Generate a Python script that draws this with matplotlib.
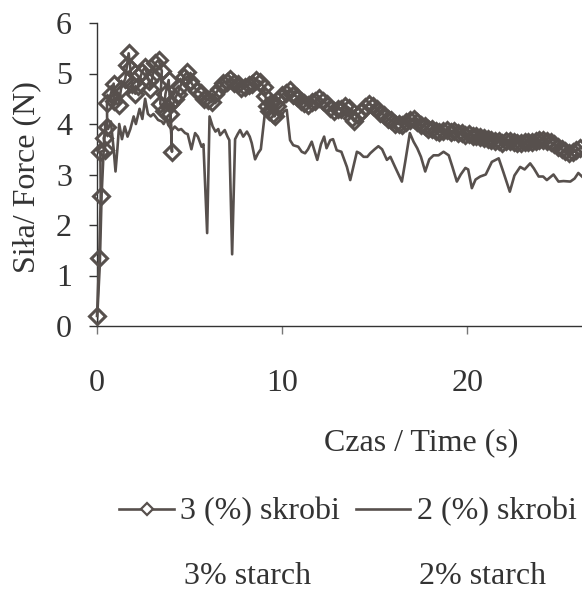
import matplotlib
matplotlib.use("Agg")
import matplotlib.pyplot as plt
from matplotlib.lines import Line2D

# 3 % starch (diamond markers)
t3 = [0.0, 0.12, 0.2, 0.18, 0.45, 0.36, 0.55, 0.54, 0.75, 0.9, 0.9, 1.17, 1.3, 1.53,
      1.62, 1.71, 1.8, 1.9, 2.07, 2.2, 2.43, 2.6, 2.8, 2.88, 3.0, 3.15, 3.33, 3.5,
      3.42, 3.6, 3.7, 3.87, 3.95, 4.05, 3.97, 4.2, 4.35, 4.5, 4.68, 4.86, 5.05, 5.2,
      5.4, 5.6, 5.8, 6.0, 6.2, 6.4, 6.6, 6.8, 7.0, 7.2, 7.4, 7.6, 7.8, 8.0, 8.2, 8.4,
      8.6, 8.8, 9.0, 9.1, 9.2, 9.3, 9.4, 9.5, 9.6, 9.7, 9.8, 10.0, 10.2, 10.4, 10.6,
      10.8, 11.0, 11.2, 11.4, 11.6, 11.8, 12.0, 12.2, 12.4, 12.6, 12.8, 13.0, 13.2,
      13.4, 13.6, 13.75, 13.9, 14.1, 14.3, 14.5, 14.7, 14.9, 15.1, 15.3, 15.5, 15.7,
      15.9, 16.1, 16.3, 16.5, 16.7, 16.9, 17.1, 17.3, 17.5, 17.7, 17.9, 18.1, 18.3,
      18.5, 18.7, 18.9, 19.1, 19.3, 19.5, 19.7, 19.9, 20.1, 20.3, 20.5, 20.7, 20.9,
      21.1, 21.3, 21.5, 21.7, 21.9, 22.1, 22.3, 22.5, 22.7, 22.9, 23.1, 23.3, 23.5,
      23.7, 23.9, 24.1, 24.3, 24.5, 24.7, 24.9, 25.1, 25.3, 25.5, 25.7, 25.9, 26.1]
f3 = [0.2, 1.34, 2.57, 3.45, 3.48, 3.72, 3.95, 4.41, 4.6, 4.8, 4.45, 4.38, 4.7, 4.9,
      5.17, 5.4, 5.1, 4.8, 4.6, 4.75, 5.03, 5.13, 4.85, 4.7, 4.95, 5.2, 5.27, 5.05,
      4.4, 4.25, 4.6, 4.87, 4.4, 3.45, 4.2, 4.5, 4.6, 4.74, 4.94, 5.03, 4.85, 4.75,
      4.66, 4.62, 4.5, 4.48, 4.44, 4.6, 4.7, 4.82, 4.84, 4.9, 4.82, 4.8, 4.72, 4.74,
      4.78, 4.8, 4.88, 4.84, 4.74, 4.55, 4.35, 4.25, 4.42, 4.2, 4.15, 4.35, 4.48, 4.58,
      4.62, 4.68, 4.58, 4.54, 4.46, 4.42, 4.38, 4.44, 4.46, 4.52, 4.46, 4.4, 4.32,
      4.26, 4.3, 4.3, 4.36, 4.32, 4.12, 4.05, 4.18, 4.26, 4.34, 4.4, 4.36, 4.3, 4.22,
      4.18, 4.1, 4.08, 4.0, 4.0, 3.98, 4.04, 4.08, 4.1, 4.04, 3.98, 3.96, 3.9, 3.9,
      3.86, 3.84, 3.86, 3.88, 3.84, 3.86, 3.82, 3.82, 3.78, 3.8, 3.76, 3.77, 3.74,
      3.73, 3.7, 3.68, 3.66, 3.66, 3.63, 3.67, 3.66, 3.64, 3.62, 3.63, 3.64, 3.65,
      3.65, 3.67, 3.68, 3.68, 3.67, 3.64, 3.6, 3.55, 3.5, 3.46, 3.43, 3.44, 3.48, 3.52]

# 2 % starch (plain line)
t2 = [0.0, 0.15, 0.25, 0.35, 0.45, 0.6, 0.75, 0.9, 1.0, 1.1, 1.2, 1.35, 1.5, 1.65,
      1.8, 1.98, 2.1, 2.3, 2.45, 2.6, 2.75, 2.9, 3.05, 3.3, 3.5, 3.6, 3.75, 3.85,
      4.05, 4.2, 4.4, 4.55, 4.76, 4.9, 5.1, 5.3, 5.45, 5.65, 5.75, 5.95, 6.08, 6.25,
      6.4, 6.55, 6.65, 6.9, 7.05, 7.15, 7.3, 7.46, 7.6, 7.73, 7.9, 8.1, 8.25, 8.36,
      8.54, 8.7, 8.85, 9.08, 9.3, 9.5, 9.7, 9.9, 10.1, 10.25, 10.43, 10.6, 10.87,
      11.06, 11.24, 11.4, 11.6, 11.9, 12.1, 12.27, 12.4, 12.6, 12.75, 12.95, 13.2,
      13.5, 13.68, 13.85, 14.04, 14.2, 14.4, 14.6, 14.76, 15.0, 15.2, 15.4, 15.66,
      15.85, 16.1, 16.47, 16.65, 16.9, 17.1, 17.3, 17.5, 17.73, 17.95, 18.18, 18.45,
      18.72, 19.0, 19.2, 19.44, 19.65, 19.9, 20.05, 20.25, 20.45, 20.7, 21.0, 21.33,
      21.7, 21.95, 22.3, 22.55, 22.86, 23.1, 23.4, 23.6, 23.86, 24.1, 24.3, 24.66,
      24.93, 25.2, 25.57, 25.8, 26.0, 26.2]
f2 = [0.1, 1.2, 2.6, 3.4, 4.0, 3.9, 4.05, 3.5, 3.06, 3.5, 4.0, 3.7, 3.95, 3.75,
      3.9, 4.15, 4.0, 4.3, 4.1, 4.5, 4.2, 4.15, 4.2, 4.08, 4.05, 4.0, 4.1, 3.98,
      3.88, 3.95, 3.88, 3.9, 3.82, 3.8, 3.5, 3.82, 3.75, 3.55, 3.6, 1.84, 4.15, 3.95,
      3.85, 3.9, 3.78, 3.88, 3.75, 3.68, 1.42, 3.7, 3.8, 3.88, 3.75, 3.85, 3.75, 3.62,
      3.3, 3.42, 3.5, 4.25, 4.4, 4.48, 4.3, 4.12, 4.25, 4.28, 3.68, 3.58, 3.55,
      3.45, 3.42, 3.5, 3.65, 3.29, 3.6, 3.75, 3.52, 3.68, 3.7, 3.48, 3.45,
      3.15, 2.89, 3.15, 3.45, 3.42, 3.35, 3.35, 3.42, 3.5, 3.56, 3.5, 3.29,
      3.35, 3.15, 2.86, 3.25, 3.82, 3.65, 3.52, 3.35, 3.06, 3.3, 3.38, 3.38,
      3.45, 3.38, 3.15, 2.86, 3.0, 3.13, 3.1, 2.73, 2.9, 2.96, 3.0, 3.25,
      3.32, 3.05, 2.66, 2.98, 3.15, 3.1, 3.22, 3.12, 2.96, 2.96, 2.89, 3.0,
      2.86, 2.87, 2.86, 2.92, 3.03, 2.96]

legend_labels = ["3 (%) skrobi", "2 (%) skrobi"]
english_labels = ["3% starch", "2% starch"]
x_ticks = [0, 10, 20]
y_ticks = [0, 1, 2, 3, 4, 5, 6]

LINE = "#57504d"
TEXT = "#333333"
FS = 23

plt.rcParams["font.family"] = ["Liberation Serif", "DejaVu Serif"]

fig = plt.figure(figsize=(5.82, 5.91), dpi=100)
ax = fig.add_axes([97 / 582, 1 - 326 / 591, 1 - 97 / 582, (326 - 23) / 591])

ax.plot(t2, f2, color=LINE, lw=1.9, zorder=2)
ax.plot(t3, f3, color=LINE, lw=1.9, marker="D", ms=8, mew=2.2,
        mfc="none", mec=LINE, clip_on=False, zorder=3)

ax.set_xlim(0, 26.2)
ax.set_ylim(0, 6)
ax.set_xticks(x_ticks)
ax.set_yticks(y_ticks)
for sp in ("top", "right"):
    ax.spines[sp].set_visible(False)
for sp in ("left", "bottom"):
    ax.spines[sp].set_color(TEXT)
    ax.spines[sp].set_linewidth(1.0)
ax.tick_params(axis="x", direction="out", length=6, width=1, color="#777777",
               pad=25, labelsize=FS, labelcolor=TEXT)
ax.tick_params(axis="y", direction="out", length=6, width=1, color=TEXT,
               pad=12, labelsize=FS, labelcolor=TEXT)

fig.text(27 / 582, 1 - 177 / 591, "Siła/ Force (N)", rotation=90, ha="center",
         va="center", fontsize=FS, color=TEXT)
fig.text(421 / 582, 1 - 443 / 591, "Czas / Time (s)", ha="center", va="center",
         fontsize=FS, color=TEXT)

handles = [
    Line2D([], [], color=LINE, lw=1.9, marker="D", ms=6.5, mew=1.6, mfc="white", mec=LINE),
    Line2D([], [], color=LINE, lw=1.9),
]
fig.legend(handles, legend_labels, ncol=2, loc="center",
           bbox_to_anchor=(348 / 582, 1 - 512 / 591), frameon=False, fontsize=FS,
           handlelength=1.7, handletextpad=0.2, columnspacing=0.5, labelcolor=TEXT)
fig.text(248 / 582, 1 - 577 / 591, english_labels[0], ha="center", va="center",
         fontsize=FS, color=TEXT)
fig.text(483 / 582, 1 - 577 / 591, english_labels[1], ha="center", va="center",
         fontsize=FS, color=TEXT)

fig.savefig("out.png", dpi=100)
